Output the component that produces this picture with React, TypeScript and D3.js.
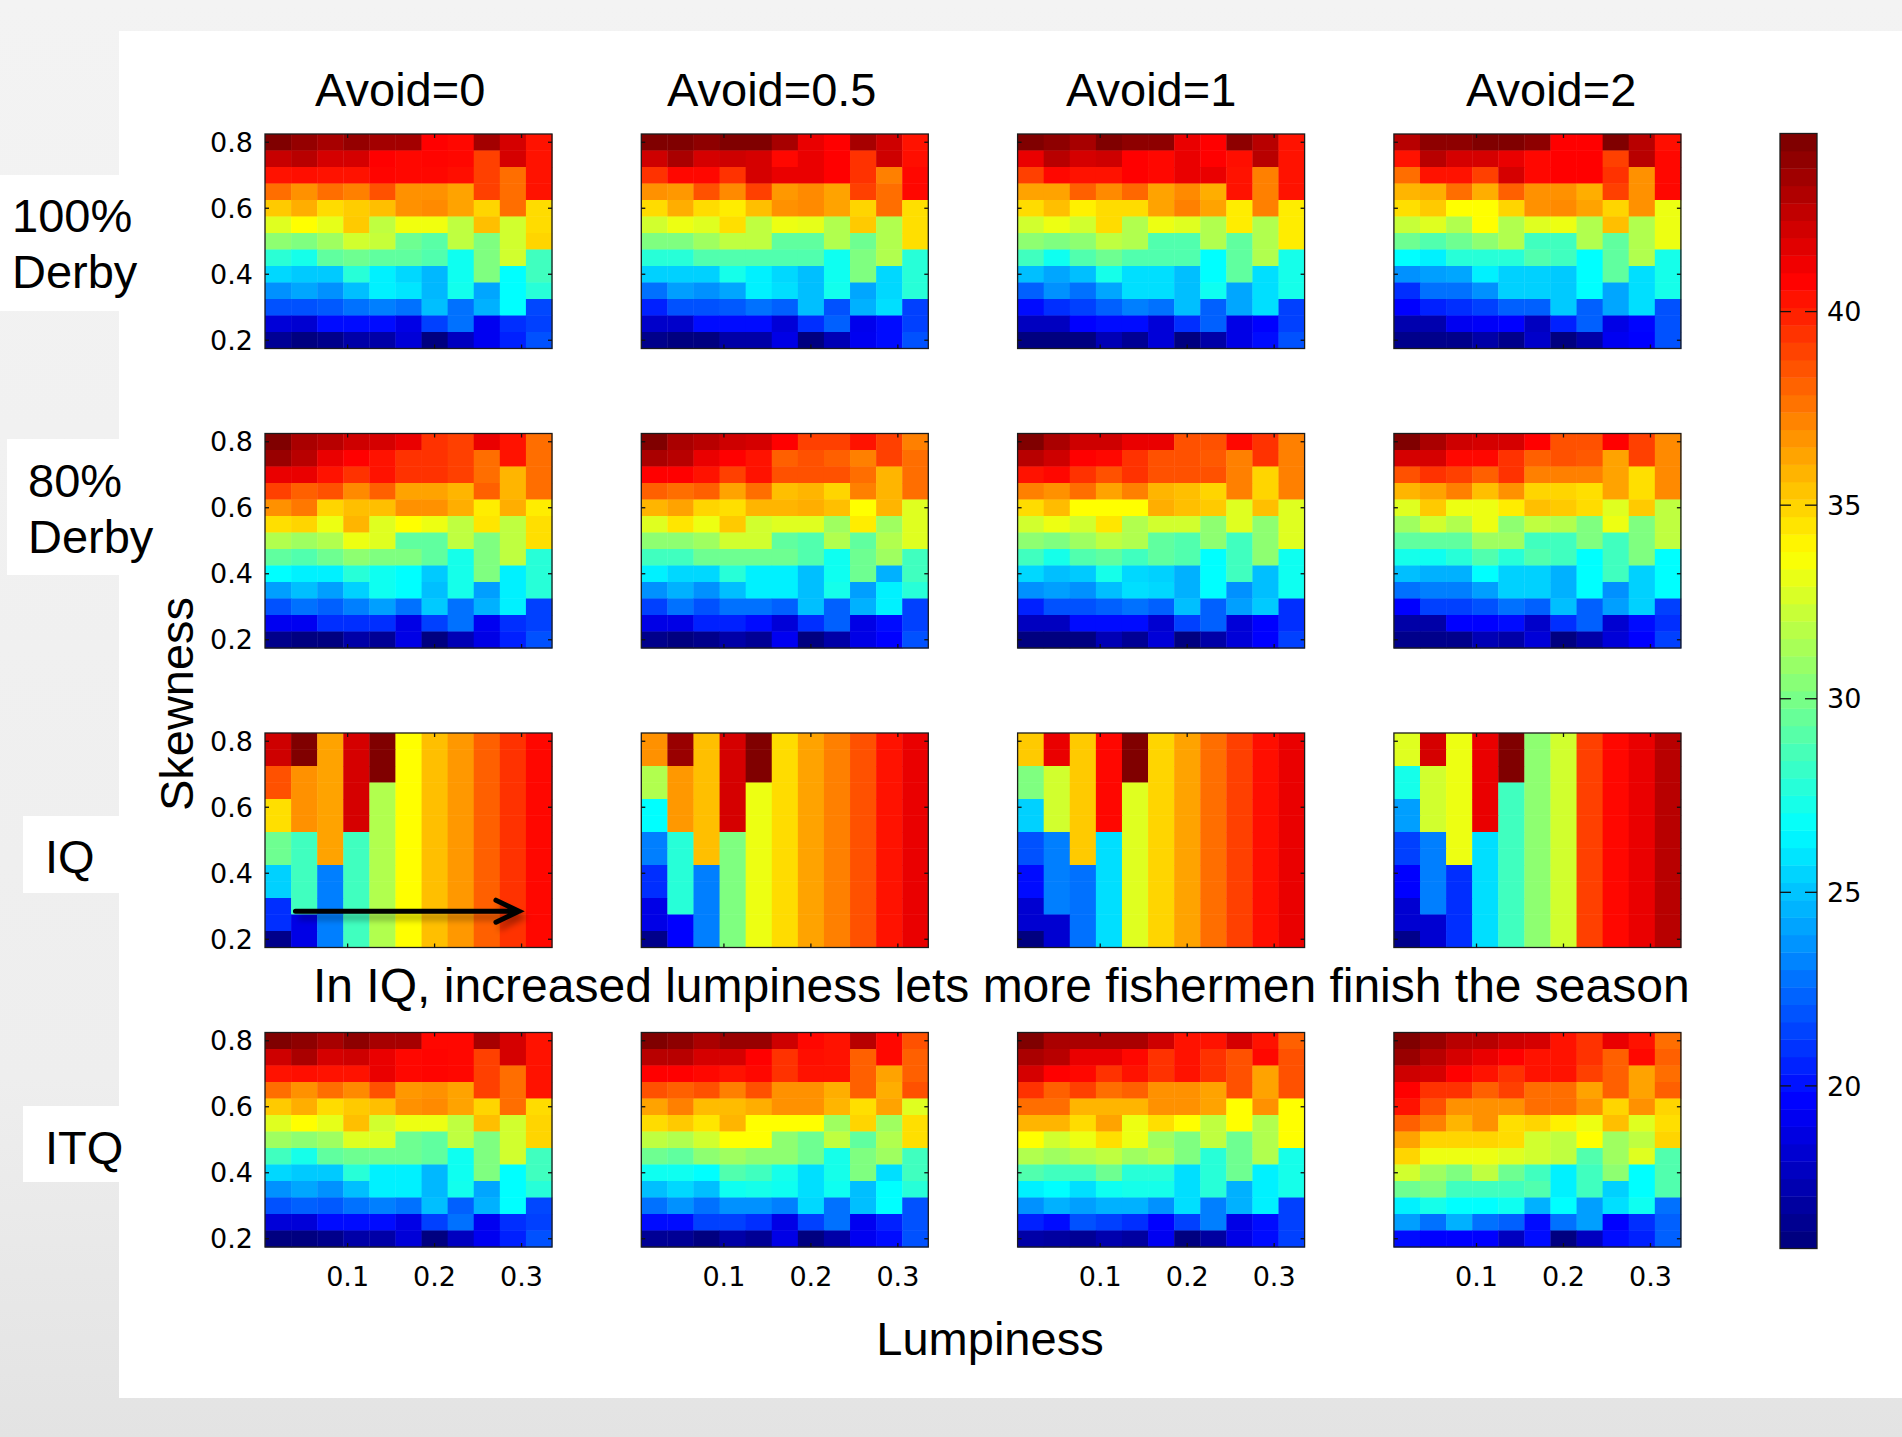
import { useEffect, useRef } from "react";
import * as d3 from "d3";

const W = 1902;
const H = 1437;

const lumpiness = [0.02, 0.05, 0.08, 0.11, 0.14, 0.17, 0.2, 0.23, 0.26, 0.29, 0.32];
const skewness = [0.8, 0.75, 0.7, 0.65, 0.6, 0.55, 0.5, 0.45, 0.4, 0.35, 0.3, 0.25, 0.2];
const avoidLabels = ["Avoid=0", "Avoid=0.5", "Avoid=1", "Avoid=2"];
const scenarioLabels = [["100%", "Derby"], ["80%", "Derby"], ["IQ"], ["ITQ"]];
const xTicks = [0.1, 0.2, 0.3];
const yTicks = [0.2, 0.4, 0.6, 0.8];
const colorTicks = [20, 25, 30, 35, 40];
const colorDomain: [number, number] = [15.8, 44.6];

// rows run from skewness 0.8 (top) down to 0.2, columns follow lumpiness
const derby100Avoid0 = [
  [44.6, 44, 43.5, 44, 43.6, 43.6, 41, 40.8, 43.6, 42.2, 40.5],
  [42.6, 43, 42.2, 42.2, 41, 40.8, 40.9, 40.8, 39.2, 42.2, 40.5],
  [40.5, 40.6, 40.5, 40.5, 40.9, 40.8, 40.8, 40.6, 39.2, 37.9, 40.5],
  [37.9, 36.9, 37.9, 37.4, 38.7, 36.9, 36.9, 36.4, 39.2, 37.9, 40.5],
  [35.3, 36.1, 34.8, 35.2, 35.6, 36.9, 37.1, 36.4, 35.0, 37.9, 34.8],
  [32.9, 33.8, 33.1, 35.3, 32.0, 33.4, 33.4, 32.0, 35.6, 32.5, 34.8],
  [30.6, 30.2, 31.1, 32.5, 32.2, 29.7, 29.1, 32.0, 30.2, 32.5, 35.0],
  [27.8, 27.2, 29.3, 29.7, 29.3, 29.3, 28.9, 27.0, 30.2, 32.5, 28.4],
  [25.5, 25.1, 25.1, 27.7, 26.2, 25.5, 24.6, 27.0, 30.2, 26.6, 28.4],
  [23.5, 24.1, 23.5, 24.8, 26.2, 25.9, 24.6, 27.1, 24.1, 26.6, 27.7],
  [21.7, 21.7, 21.9, 22.6, 23.0, 22.6, 24.8, 22.6, 24.4, 26.6, 21.4],
  [18.3, 18.1, 19.7, 19.7, 19.7, 18.7, 21.2, 22.6, 19.0, 20.7, 21.2],
  [16.4, 15.8, 16.1, 16.9, 16.9, 18.3, 15.8, 17.6, 19.0, 20.3, 21.7],
];

const derby100Avoid05 = [
  [44.6, 44.6, 44.2, 44.6, 44.6, 43.5, 41.6, 41, 43.5, 42.4, 40.5],
  [42.4, 43.4, 42.2, 42.4, 42.2, 40.8, 41.6, 41, 39.6, 42.4, 40.6],
  [39.6, 40.8, 40.8, 39.6, 42.2, 41.6, 41.6, 41, 39.6, 37.4, 40.8],
  [36.9, 36.7, 38.7, 37.1, 39.2, 36.7, 37.1, 36.4, 39.2, 37.9, 40.8],
  [34.8, 36.1, 34.8, 34.3, 35.6, 36.9, 37.1, 36.4, 35.0, 37.9, 34.7],
  [32.5, 33.3, 32.9, 34.7, 32.0, 33.3, 33.1, 31.6, 35.3, 31.6, 34.7],
  [30.2, 30.2, 31.1, 32.0, 32.0, 29.3, 29.3, 31.6, 29.7, 31.6, 34.7],
  [27.7, 27.7, 28.9, 28.9, 28.9, 28.9, 28.9, 27.0, 30.2, 31.6, 27.7],
  [25.3, 25.3, 25.3, 27.2, 26.2, 25.5, 24.8, 27.0, 30.2, 25.5, 27.7],
  [22.6, 23.9, 23.5, 24.1, 26.2, 25.7, 24.8, 27.1, 24.1, 25.5, 27.7],
  [20.3, 21.7, 21.7, 21.9, 22.6, 22.1, 24.8, 21.7, 24.4, 25.7, 21.2],
  [17.9, 17.9, 19.7, 19.7, 19.7, 18.3, 20.7, 22.1, 18.9, 19.7, 21.2],
  [16.1, 15.8, 15.8, 16.9, 16.9, 18.7, 15.8, 17.3, 19.0, 19.7, 21.7],
];

const derby100Avoid1 = [
  [44.6, 44.2, 43.5, 44.6, 44.2, 44.2, 41.6, 41, 44.2, 43, 40.5],
  [41.6, 43, 42.2, 42.4, 41, 40.8, 41.6, 41, 40.6, 43, 40.5],
  [39.2, 40.8, 40.5, 40.5, 41, 40.8, 41.6, 41.6, 40.5, 37.4, 40.5],
  [36.4, 36.4, 38.3, 37.1, 38.1, 36.4, 37.1, 36.1, 40.5, 37.4, 40.5],
  [34.8, 35.6, 34.2, 34.8, 34.8, 36.4, 37.4, 36.4, 34.3, 37.4, 34.3],
  [32.5, 33.3, 32.5, 34.8, 31.6, 33.3, 32.9, 31.6, 34.3, 31.6, 34.3],
  [30.6, 30.2, 30.6, 32.0, 31.6, 28.9, 28.9, 31.6, 29.3, 31.6, 34.3],
  [28.4, 27.0, 28.9, 29.7, 28.9, 28.9, 28.9, 26.6, 29.3, 31.6, 27.2],
  [24.8, 24.1, 24.8, 27.2, 25.7, 25.7, 24.8, 26.6, 29.3, 25.7, 27.2],
  [22.1, 23.5, 22.6, 24.1, 25.7, 25.7, 24.8, 27.0, 24.1, 25.7, 27.2],
  [19.7, 20.7, 21.2, 22.1, 23.0, 22.6, 24.8, 22.1, 24.1, 25.7, 21.2],
  [17.6, 17.6, 19.4, 19.7, 19.7, 18.3, 20.7, 22.1, 18.7, 19.4, 21.2],
  [15.8, 15.8, 15.8, 17.3, 16.4, 18.3, 15.8, 16.9, 18.7, 19.7, 21.7],
];

const derby100Avoid2 = [
  [43, 44.2, 44.2, 44.6, 44.6, 44.2, 41, 41, 44.6, 43, 40.6],
  [40.5, 43, 42.2, 42.2, 41.6, 40.8, 41, 41, 39.2, 43, 40.8],
  [37.9, 40.5, 40.5, 39.2, 42.2, 40.8, 41, 41, 39.6, 36.9, 40.8],
  [35.9, 36.1, 37.9, 36.1, 38.3, 36.9, 36.9, 36.1, 39.2, 36.9, 40.8],
  [34.7, 35.3, 33.8, 33.8, 35.0, 36.9, 37.1, 36.4, 35.0, 36.9, 33.3],
  [32.2, 32.9, 31.6, 33.8, 31.6, 32.9, 33.3, 31.6, 35.6, 31.6, 33.3],
  [29.7, 28.9, 29.7, 30.6, 31.6, 28.4, 28.4, 31.6, 29.3, 31.6, 33.3],
  [26.6, 26.2, 27.7, 27.7, 27.7, 28.9, 28.4, 26.6, 29.3, 31.6, 27.2],
  [23.5, 23.9, 24.1, 26.2, 25.3, 25.3, 25.1, 26.6, 29.3, 25.7, 27.2],
  [20.7, 22.6, 22.6, 23.5, 25.3, 25.3, 25.1, 26.6, 24.1, 25.7, 27.2],
  [19.4, 20.3, 20.7, 21.2, 22.1, 22.1, 25.1, 22.1, 24.1, 25.7, 21.7],
  [17.1, 17.1, 19.0, 19.2, 19.4, 17.6, 20.3, 22.1, 18.7, 19.5, 21.7],
  [16.1, 16.1, 16.1, 16.9, 16.1, 17.9, 15.8, 16.9, 19.0, 19.4, 21.7],
];

const derby80Avoid0 = [
  [44.6, 43.4, 43, 42.4, 42.2, 41.6, 39.6, 39.2, 41.6, 40.5, 37.9],
  [43.9, 43, 41.6, 41, 40.5, 39.6, 39.6, 39.2, 37.9, 40.5, 37.9],
  [41.6, 41.6, 40.5, 39.6, 40.5, 39.6, 39.6, 39.2, 37.9, 35.9, 37.9],
  [39.2, 38.3, 38.7, 37.1, 38.3, 36.4, 36.4, 35.9, 38.3, 35.9, 37.9],
  [36.9, 37.6, 35.0, 35.6, 35.6, 36.9, 36.9, 36.1, 34.3, 36.1, 34.3],
  [34.7, 35.0, 33.3, 35.9, 32.9, 33.8, 33.3, 32.0, 34.5, 32.0, 34.7],
  [31.6, 31.1, 31.6, 33.3, 32.9, 29.3, 29.3, 32.0, 30.2, 32.0, 34.7],
  [29.3, 28.9, 29.7, 30.6, 30.2, 30.2, 29.3, 27.2, 30.2, 32.0, 27.7],
  [26.6, 26.2, 26.2, 27.7, 27.0, 26.6, 25.1, 27.2, 30.2, 26.2, 27.7],
  [23.9, 24.8, 23.9, 25.3, 27.0, 26.6, 24.8, 27.2, 23.9, 26.2, 27.7],
  [21.7, 22.6, 22.1, 23.0, 23.9, 22.6, 25.1, 22.6, 24.4, 26.2, 21.2],
  [19.0, 19.0, 20.7, 20.7, 20.7, 18.7, 21.2, 22.6, 19.0, 20.7, 21.2],
  [16.1, 15.8, 15.8, 16.9, 16.4, 18.7, 15.8, 17.3, 18.7, 20.3, 21.7],
];

const derby80Avoid05 = [
  [44.6, 43.4, 43, 42.4, 42.2, 41, 39.2, 39.2, 40.5, 39.2, 37.4],
  [43.4, 43, 41.6, 41, 40.5, 38.3, 38.7, 38.3, 37.4, 39.2, 37.9],
  [41, 41, 40.5, 39.2, 40.5, 38.7, 38.7, 38.7, 37.9, 35.9, 37.9],
  [38.3, 37.9, 38.3, 36.4, 37.9, 35.6, 35.9, 35.0, 37.4, 35.9, 37.9],
  [35.9, 36.4, 35.0, 34.7, 35.9, 35.9, 36.1, 35.6, 33.8, 35.9, 32.9],
  [32.9, 34.5, 33.3, 35.3, 32.5, 32.9, 32.9, 31.1, 34.3, 31.1, 32.9],
  [30.6, 30.6, 31.1, 32.5, 32.5, 29.3, 28.9, 31.6, 29.3, 31.6, 32.9],
  [28.4, 28.4, 29.7, 29.7, 29.7, 29.7, 28.9, 27.0, 29.7, 31.1, 28.4],
  [26.2, 25.5, 25.5, 27.7, 26.2, 26.2, 24.8, 27.0, 29.7, 24.4, 28.4],
  [23.5, 24.4, 23.5, 24.8, 26.2, 26.2, 24.8, 27.2, 23.9, 26.2, 27.7],
  [21.2, 22.6, 21.7, 22.6, 22.6, 22.1, 24.8, 22.1, 24.4, 26.2, 21.2],
  [18.7, 18.7, 20.3, 20.3, 19.7, 18.3, 20.7, 22.1, 18.7, 19.7, 21.2],
  [16.1, 15.8, 16.1, 16.9, 16.4, 19.0, 15.8, 16.9, 18.7, 19.4, 21.7],
];

const derby80Avoid1 = [
  [44.6, 43.4, 42.4, 42.4, 41.6, 41.6, 38.7, 38.7, 40.8, 39.6, 37.4],
  [43, 42.4, 41, 40.8, 39.6, 38.7, 38.7, 38.5, 37.4, 39.6, 37.4],
  [40.5, 40.8, 39.6, 38.7, 39.6, 38.7, 38.7, 38.7, 37.4, 35.0, 37.4],
  [37.4, 36.9, 37.9, 36.4, 37.4, 35.9, 35.6, 35.0, 37.4, 35.0, 37.4],
  [34.8, 35.7, 33.8, 33.8, 33.8, 36.1, 35.6, 35.3, 32.9, 35.6, 32.9],
  [32.5, 33.3, 32.5, 34.5, 31.6, 32.5, 32.5, 30.6, 32.9, 30.6, 32.9],
  [30.6, 30.2, 31.1, 32.0, 31.6, 29.3, 28.9, 30.6, 28.4, 30.6, 32.9],
  [28.4, 27.2, 28.9, 29.3, 28.4, 29.3, 28.9, 26.6, 28.4, 30.6, 27.0],
  [25.5, 24.8, 25.1, 27.2, 25.5, 25.3, 24.4, 26.6, 28.4, 24.8, 27.0],
  [23.5, 23.9, 23.5, 24.8, 25.7, 25.5, 24.4, 26.6, 23.5, 24.8, 27.0],
  [20.3, 21.7, 21.7, 22.1, 22.6, 22.1, 24.8, 22.1, 23.9, 25.1, 20.7],
  [17.6, 17.6, 19.7, 19.7, 19.7, 18.1, 21.2, 22.1, 18.3, 19.4, 20.7],
  [15.8, 15.8, 15.8, 17.3, 16.4, 18.3, 15.8, 16.9, 18.3, 19.4, 21.2],
];

const derby80Avoid2 = [
  [44.6, 43.4, 42.4, 42.2, 42.2, 41, 38.7, 38.7, 41, 39.2, 37.1],
  [42.2, 42.2, 40.8, 40.8, 39.6, 38.3, 38.7, 38.5, 36.4, 39.2, 37.1],
  [38.7, 39.6, 39.2, 38.3, 39.6, 37.4, 37.4, 37.4, 36.4, 34.7, 37.1],
  [35.9, 36.4, 37.4, 35.6, 36.9, 35.0, 35.0, 34.7, 36.4, 34.7, 37.1],
  [32.9, 35.3, 33.3, 33.3, 34.3, 35.6, 35.3, 34.8, 32.9, 35.3, 32.0],
  [31.1, 32.5, 31.6, 33.3, 30.6, 32.0, 31.6, 30.2, 33.3, 30.2, 32.0],
  [29.3, 29.3, 29.3, 31.1, 31.1, 28.4, 28.4, 30.2, 28.4, 30.2, 32.0],
  [27.2, 27.0, 27.7, 28.9, 27.7, 28.9, 28.4, 26.6, 28.4, 30.2, 26.6],
  [24.8, 24.4, 24.4, 26.6, 25.3, 25.3, 24.4, 26.6, 28.4, 25.3, 26.6],
  [22.6, 23.0, 23.0, 23.9, 25.3, 25.3, 24.4, 26.6, 23.5, 25.3, 26.6],
  [19.4, 21.2, 21.2, 21.7, 22.6, 22.1, 24.8, 22.1, 23.9, 25.3, 21.2],
  [16.9, 16.9, 19.4, 19.4, 19.7, 17.9, 20.7, 22.1, 18.1, 19.7, 20.7],
  [16.1, 16.1, 16.1, 17.3, 16.9, 18.3, 15.8, 16.9, 18.3, 19.4, 21.2],
];

const iqAvoid0 = [
  [42.4, 44.6, 36.4, 42.2, 44.6, 33.8, 35.6, 36.7, 38.3, 39.6, 40.8],
  [42.4, 44.6, 36.4, 42.2, 44.6, 33.8, 35.6, 36.7, 38.3, 39.6, 40.8],
  [38.7, 36.9, 36.4, 42.2, 44.6, 33.8, 35.6, 36.7, 38.3, 39.6, 40.8],
  [38.7, 36.9, 36.4, 42.2, 31.6, 33.8, 35.6, 36.7, 38.3, 39.6, 40.8],
  [34.7, 36.9, 36.4, 42.2, 31.6, 33.8, 35.6, 36.7, 38.3, 39.6, 40.8],
  [34.7, 36.9, 36.4, 42.2, 31.6, 33.8, 35.6, 36.7, 38.3, 39.6, 40.8],
  [29.7, 28.4, 36.4, 28.4, 31.6, 33.8, 35.6, 36.7, 38.3, 39.6, 40.8],
  [29.7, 28.4, 36.4, 28.4, 31.6, 33.8, 35.6, 36.7, 38.3, 39.6, 40.8],
  [25.3, 28.4, 23.0, 28.4, 31.6, 33.8, 35.6, 36.7, 38.3, 39.6, 40.8],
  [25.3, 28.4, 23.0, 28.4, 31.6, 33.8, 35.6, 36.7, 38.3, 39.6, 40.8],
  [20.7, 28.4, 23.0, 28.4, 31.6, 33.8, 35.6, 36.7, 38.3, 39.6, 40.8],
  [20.7, 18.7, 23.0, 28.4, 31.6, 33.8, 35.6, 36.7, 38.3, 39.6, 40.8],
  [16.1, 18.7, 23.0, 28.4, 31.6, 33.8, 35.6, 36.7, 38.3, 39.6, 40.8],
];

const iqAvoid05 = [
  [36.9, 43.9, 35.6, 42.2, 44.6, 34.8, 36.4, 37.4, 38.7, 40.5, 41.6],
  [36.9, 43.9, 35.6, 42.2, 44.6, 34.8, 36.4, 37.4, 38.7, 40.5, 41.6],
  [31.6, 36.7, 35.6, 42.2, 44.6, 34.8, 36.4, 37.4, 38.7, 40.5, 41.6],
  [31.6, 36.7, 35.6, 42.2, 33.3, 34.8, 36.4, 37.4, 38.7, 40.5, 41.6],
  [26.6, 36.7, 35.6, 42.2, 33.3, 34.8, 36.4, 37.4, 38.7, 40.5, 41.6],
  [26.6, 36.7, 35.6, 42.2, 33.3, 34.8, 36.4, 37.4, 38.7, 40.5, 41.6],
  [23.0, 27.7, 35.6, 30.2, 33.3, 34.8, 36.4, 37.4, 38.7, 40.5, 41.6],
  [23.0, 27.7, 35.6, 30.2, 33.3, 34.8, 36.4, 37.4, 38.7, 40.5, 41.6],
  [20.7, 27.7, 23.0, 30.2, 33.3, 34.8, 36.4, 37.4, 38.7, 40.5, 41.6],
  [20.7, 27.7, 23.0, 30.2, 33.3, 34.8, 36.4, 37.4, 38.7, 40.5, 41.6],
  [18.7, 27.7, 23.0, 30.2, 33.3, 34.8, 36.4, 37.4, 38.7, 40.5, 41.6],
  [18.7, 19.4, 23.0, 30.2, 33.3, 34.8, 36.4, 37.4, 38.7, 40.5, 41.6],
  [16.1, 19.4, 23.0, 30.2, 33.3, 34.8, 36.4, 37.4, 38.7, 40.5, 41.6],
];

const iqAvoid1 = [
  [35.3, 41.6, 35.3, 40.8, 44.6, 35.0, 36.4, 37.9, 39.2, 40.6, 41.6],
  [35.3, 41.6, 35.3, 40.8, 44.6, 35.0, 36.4, 37.9, 39.2, 40.6, 41.6],
  [30.2, 32.5, 35.3, 40.8, 44.6, 35.0, 36.4, 37.9, 39.2, 40.6, 41.6],
  [30.2, 32.5, 35.3, 40.8, 32.9, 35.0, 36.4, 37.9, 39.2, 40.6, 41.6],
  [25.3, 32.5, 35.3, 40.8, 32.9, 35.0, 36.4, 37.9, 39.2, 40.6, 41.6],
  [25.3, 32.5, 35.3, 40.8, 32.9, 35.0, 36.4, 37.9, 39.2, 40.6, 41.6],
  [21.7, 23.0, 35.3, 25.7, 32.9, 35.0, 36.4, 37.9, 39.2, 40.6, 41.6],
  [21.7, 23.0, 35.3, 25.7, 32.9, 35.0, 36.4, 37.9, 39.2, 40.6, 41.6],
  [19.7, 23.0, 22.6, 25.7, 32.9, 35.0, 36.4, 37.9, 39.2, 40.6, 41.6],
  [19.7, 23.0, 22.6, 25.7, 32.9, 35.0, 36.4, 37.9, 39.2, 40.6, 41.6],
  [18.1, 23.0, 22.6, 25.7, 32.9, 35.0, 36.4, 37.9, 39.2, 40.6, 41.6],
  [18.1, 18.1, 22.6, 25.7, 32.9, 35.0, 36.4, 37.9, 39.2, 40.6, 41.6],
  [15.8, 18.1, 22.6, 25.7, 32.9, 35.0, 36.4, 37.9, 39.2, 40.6, 41.6],
];

const iqAvoid2 = [
  [32.9, 42.2, 33.3, 41.6, 44.6, 30.6, 32.5, 39.2, 40.8, 41.6, 43.0],
  [32.9, 42.2, 33.3, 41.6, 44.6, 30.6, 32.5, 39.2, 40.8, 41.6, 43.0],
  [27.2, 32.5, 33.3, 41.6, 44.6, 30.6, 32.5, 39.2, 40.8, 41.6, 43.0],
  [27.2, 32.5, 33.3, 41.6, 28.4, 30.6, 32.5, 39.2, 40.8, 41.6, 43.0],
  [23.9, 32.5, 33.3, 41.6, 28.4, 30.6, 32.5, 39.2, 40.8, 41.6, 43.0],
  [23.9, 32.5, 33.3, 41.6, 28.4, 30.6, 32.5, 39.2, 40.8, 41.6, 43.0],
  [21.2, 23.0, 33.3, 25.7, 28.4, 30.6, 32.5, 39.2, 40.8, 41.6, 43.0],
  [21.2, 23.0, 33.3, 25.7, 28.4, 30.6, 32.5, 39.2, 40.8, 41.6, 43.0],
  [19.4, 23.0, 20.7, 25.7, 28.4, 30.6, 32.5, 39.2, 40.8, 41.6, 43.0],
  [19.4, 23.0, 20.7, 25.7, 28.4, 30.6, 32.5, 39.2, 40.8, 41.6, 43.0],
  [18.1, 23.0, 20.7, 25.7, 28.4, 30.6, 32.5, 39.2, 40.8, 41.6, 43.0],
  [18.1, 18.1, 20.7, 25.7, 28.4, 30.6, 32.5, 39.2, 40.8, 41.6, 43.0],
  [16.1, 18.1, 20.7, 25.7, 28.4, 30.6, 32.5, 39.2, 40.8, 41.6, 43.0],
];

const itqAvoid0 = [
  [44.6, 44.2, 43.5, 44.2, 43.5, 43.5, 40.8, 40.8, 43.5, 42.2, 40.5],
  [42.4, 43.4, 42.2, 42.4, 41.6, 40.8, 40.9, 40.8, 39.2, 42.2, 40.5],
  [40.5, 40.6, 40.5, 40.5, 41.6, 40.8, 40.9, 40.8, 39.2, 37.9, 40.5],
  [37.9, 36.9, 37.9, 37.1, 38.7, 36.7, 36.9, 36.4, 39.2, 37.9, 40.5],
  [35.3, 36.1, 34.8, 35.3, 35.6, 36.9, 37.1, 36.4, 35.0, 37.9, 34.8],
  [32.9, 33.8, 33.1, 35.6, 32.5, 33.3, 33.3, 32.0, 35.6, 32.5, 35.0],
  [31.1, 30.6, 31.1, 32.9, 32.9, 29.7, 29.3, 32.0, 30.2, 32.5, 35.0],
  [28.4, 27.2, 29.3, 29.7, 29.7, 29.7, 29.3, 27.0, 30.2, 32.5, 28.4],
  [25.5, 25.1, 25.1, 27.7, 26.2, 26.2, 24.6, 27.0, 30.2, 26.6, 28.4],
  [23.5, 24.1, 23.5, 24.8, 26.2, 26.2, 24.6, 27.1, 24.1, 26.6, 27.7],
  [21.7, 22.1, 21.9, 22.6, 23.0, 22.6, 24.8, 22.1, 24.4, 26.6, 21.4],
  [18.3, 18.3, 19.7, 19.7, 19.7, 18.7, 21.2, 22.6, 19.0, 20.7, 21.2],
  [15.8, 15.8, 16.1, 16.9, 16.9, 18.3, 15.8, 17.6, 19.0, 20.3, 21.7],
];

const itqAvoid05 = [
  [44.6, 44.2, 43.4, 43.9, 43.9, 42.4, 40.8, 40.5, 43, 40.8, 38.7],
  [43, 43, 42.2, 42.2, 41, 39.6, 40.6, 40.5, 38.3, 40.8, 38.3],
  [41, 41, 40.8, 40.5, 40.8, 39.6, 40.5, 40.5, 38.3, 36.4, 38.3],
  [38.7, 38.3, 38.7, 37.4, 38.7, 36.9, 36.9, 36.1, 38.3, 36.1, 38.7],
  [36.4, 37.4, 35.7, 35.7, 36.1, 36.9, 36.9, 35.9, 34.7, 36.4, 32.9],
  [34.8, 35.3, 34.5, 35.9, 33.8, 33.8, 33.8, 31.1, 35.0, 31.1, 34.7],
  [32.0, 31.6, 32.5, 33.8, 33.8, 30.6, 29.7, 32.0, 29.3, 31.6, 34.7],
  [29.7, 29.3, 30.6, 31.1, 30.6, 30.6, 29.7, 27.2, 30.2, 31.1, 28.4],
  [27.0, 27.0, 26.6, 28.9, 28.4, 27.2, 25.7, 27.2, 30.2, 25.7, 28.4],
  [24.8, 25.5, 24.8, 27.0, 27.2, 27.0, 25.7, 27.0, 24.8, 26.6, 27.7],
  [22.6, 23.5, 22.6, 23.5, 23.5, 23.0, 25.5, 22.6, 24.8, 26.6, 21.7],
  [19.7, 19.7, 21.2, 21.2, 20.7, 18.7, 21.2, 22.6, 19.0, 20.3, 21.7],
  [16.4, 16.4, 15.8, 16.9, 16.4, 18.7, 15.8, 16.9, 19.0, 19.7, 21.7],
];

const itqAvoid1 = [
  [44.6, 43.4, 43.4, 43.4, 43.4, 42.4, 40.5, 40.5, 42.2, 40.5, 38.3],
  [43.4, 43, 41.6, 41.6, 40.8, 39.6, 40.5, 39.6, 38.7, 40.8, 38.7],
  [42.2, 41, 40.8, 39.6, 40.5, 39.6, 40.5, 39.6, 38.7, 36.4, 38.7],
  [39.6, 38.3, 39.2, 37.9, 38.3, 36.9, 36.9, 36.4, 38.7, 36.4, 38.7],
  [37.9, 37.9, 35.9, 35.9, 35.9, 36.9, 36.9, 36.4, 33.8, 36.9, 33.8],
  [35.9, 35.9, 34.8, 36.4, 33.3, 34.7, 33.8, 32.0, 33.8, 31.6, 33.8],
  [33.8, 32.5, 33.3, 34.7, 33.3, 31.1, 30.2, 32.0, 29.7, 31.6, 33.8],
  [31.6, 31.1, 31.6, 32.0, 31.1, 31.6, 30.2, 27.7, 29.7, 31.6, 27.2],
  [28.9, 28.4, 28.4, 29.7, 27.7, 27.7, 25.7, 27.7, 29.7, 26.2, 27.2],
  [26.2, 26.6, 25.7, 27.0, 27.2, 27.2, 25.7, 27.7, 24.4, 26.2, 27.2],
  [23.5, 24.4, 23.9, 24.4, 24.4, 23.5, 25.7, 23.0, 24.4, 26.2, 21.2],
  [20.3, 19.7, 21.7, 21.2, 20.7, 19.4, 21.2, 23.0, 18.7, 19.7, 21.2],
  [16.9, 16.7, 16.4, 17.1, 16.7, 19.0, 15.8, 16.7, 18.7, 19.7, 21.2],
];

const itqAvoid2 = [
  [44.6, 43.9, 43, 43, 42.4, 42.2, 40.5, 39.6, 41.6, 40.5, 37.9],
  [43.9, 43, 42.2, 41.6, 41, 40.5, 40.5, 39.6, 38.3, 40.8, 38.3],
  [42.4, 42.2, 41, 40.5, 39.6, 40.5, 40.5, 39.2, 38.3, 36.4, 37.9],
  [41, 39.6, 39.6, 38.3, 39.2, 37.9, 37.9, 36.4, 38.3, 36.4, 38.3],
  [40.5, 38.7, 36.9, 36.9, 36.9, 37.9, 37.9, 36.9, 35.0, 36.9, 35.0],
  [38.3, 37.4, 35.9, 36.9, 34.7, 35.0, 34.2, 33.3, 35.6, 32.9, 34.7],
  [36.4, 35.0, 35.0, 35.0, 34.8, 32.5, 32.0, 33.8, 31.1, 32.0, 35.0],
  [35.0, 33.3, 33.3, 33.3, 32.9, 32.5, 32.0, 28.9, 31.1, 32.9, 28.9],
  [32.5, 31.1, 30.2, 32.0, 29.7, 28.4, 26.2, 28.4, 30.6, 26.6, 28.9],
  [29.7, 30.2, 28.4, 28.4, 28.4, 28.9, 26.2, 28.4, 25.3, 26.6, 28.9],
  [26.2, 27.2, 26.6, 26.6, 27.0, 24.4, 26.6, 23.9, 25.7, 27.0, 22.6],
  [23.9, 22.6, 24.4, 22.6, 22.1, 19.7, 22.6, 23.9, 19.4, 20.7, 22.1],
  [19.7, 19.4, 19.4, 19.4, 17.6, 19.7, 15.8, 17.6, 19.7, 20.3, 22.1],
];

const panelData = [
  [derby100Avoid0, derby100Avoid05, derby100Avoid1, derby100Avoid2],
  [derby80Avoid0, derby80Avoid05, derby80Avoid1, derby80Avoid2],
  [iqAvoid0, iqAvoid05, iqAvoid1, iqAvoid2],
  [itqAvoid0, itqAvoid05, itqAvoid1, itqAvoid2],
];

// arrow in the IQ / Avoid=0 panel, in data units (lumpiness, skewness)
const arrowFrom = [0.04, 0.285];
const arrowTo = [0.297, 0.285];

const BIG = "'Liberation Sans', Arial, Helvetica, sans-serif";
const TICK = "'DejaVu Sans', Verdana, sans-serif";

// MATLAB-style jet colormap
const jet = d3
  .scaleLinear<string>()
  .domain([0, 0.125, 0.375, 0.625, 0.875, 1])
  .range(["#000080", "#0000ff", "#00ffff", "#ffff00", "#ff0000", "#800000"])
  .clamp(true);
const norm = d3.scaleLinear().domain(colorDomain).range([0, 1]).clamp(true);

export default function App() {
  const svgRef = useRef<SVGSVGElement>(null);

  useEffect(() => {
    if (!svgRef.current) return;
    const svg = d3.select(svgRef.current);
    svg.selectAll("*").remove();

    const panelLeft = 265;
    const panelTop = 134;
    const stepX = 376.3;
    const stepY = 299.5;
    const pw = 287;
    const ph = 214.5;

    // backdrop
    const defs = svg.append("defs");
    const bg = defs
      .append("linearGradient")
      .attr("id", "bg")
      .attr("x1", 0)
      .attr("y1", 0)
      .attr("x2", 0)
      .attr("y2", 1);
    bg.append("stop").attr("offset", "0%").attr("stop-color", "#f3f3f3");
    bg.append("stop").attr("offset", "75%").attr("stop-color", "#eeeeee");
    bg.append("stop").attr("offset", "100%").attr("stop-color", "#e3e3e3");
    const blur = defs.append("filter").attr("id", "shadow").attr("x", "-10%").attr("y", "-100%").attr("width", "120%").attr("height", "300%");
    blur.append("feGaussianBlur").attr("stdDeviation", 3);

    svg.append("rect").attr("width", W).attr("height", H).attr("fill", "url(#bg)");
    svg.append("rect").attr("x", 119).attr("y", 31).attr("width", W - 119).attr("height", 1367).attr("fill", "#fff");

    // white boxes behind the row labels
    const labelBoxes = [
      [0, 175, 119, 136],
      [7, 439, 112, 136],
      [23, 816, 96, 77],
      [23, 1106, 96, 76],
    ];
    svg
      .append("g")
      .selectAll("rect")
      .data(labelBoxes)
      .join("rect")
      .attr("x", (d) => d[0])
      .attr("y", (d) => d[1])
      .attr("width", (d) => d[2])
      .attr("height", (d) => d[3])
      .attr("fill", "#fff");

    // row labels
    const labelPos = [
      { x: 12, y: [232, 288] },
      { x: 28, y: [497, 553] },
      { x: 45, y: [873] },
      { x: 45, y: [1164] },
    ];
    scenarioLabels.forEach((lines, i) => {
      lines.forEach((txt, j) => {
        svg
          .append("text")
          .attr("x", labelPos[i].x)
          .attr("y", labelPos[i].y[j])
          .attr("font-family", BIG)
          .attr("font-size", 47)
          .attr("fill", "#000")
          .text(txt);
      });
    });

    // column titles
    const titleX = [315, 667, 1066, 1466];
    avoidLabels.forEach((t, i) => {
      svg
        .append("text")
        .attr("x", titleX[i])
        .attr("y", 106)
        .attr("font-family", BIG)
        .attr("font-size", 47)
        .text(t);
    });

    const half = { l: 0.015, s: 0.025 };

    panelData.forEach((row, r) => {
      row.forEach((grid, c) => {
        const x0 = panelLeft + c * stepX;
        const y0 = panelTop + r * stepY;
        const x = d3.scaleLinear().domain([0.005, 0.335]).range([x0, x0 + pw]);
        const y = d3.scaleLinear().domain([0.175, 0.825]).range([y0 + ph, y0]);

        const cells = grid.flatMap((vals, i) =>
          vals.map((v, j) => ({ s: skewness[i], l: lumpiness[j], v }))
        );

        const g = svg.append("g");
        g.selectAll("rect")
          .data(cells)
          .join("rect")
          .attr("x", (d) => x(d.l - half.l))
          .attr("y", (d) => y(d.s + half.s))
          .attr("width", (d) => x(d.l + half.l) - x(d.l - half.l) + 0.4)
          .attr("height", (d) => y(d.s - half.s) - y(d.s + half.s) + 0.4)
          .attr("fill", (d) => jet(norm(d.v)));

        g.append("rect")
          .attr("x", x0)
          .attr("y", y0)
          .attr("width", pw)
          .attr("height", ph)
          .attr("fill", "none")
          .attr("stroke", "#1b1b1b")
          .attr("stroke-width", 1.3);

        // inward ticks on all four sides
        xTicks.forEach((t) => {
          g.append("line").attr("x1", x(t)).attr("x2", x(t)).attr("y1", y0 + ph).attr("y2", y0 + ph - 4).attr("stroke", "#111").attr("stroke-width", 1.3);
          g.append("line").attr("x1", x(t)).attr("x2", x(t)).attr("y1", y0).attr("y2", y0 + 4).attr("stroke", "#111").attr("stroke-width", 1.3);
        });
        yTicks.forEach((t) => {
          g.append("line").attr("x1", x0).attr("x2", x0 + 4).attr("y1", y(t)).attr("y2", y(t)).attr("stroke", "#111").attr("stroke-width", 1.3);
          g.append("line").attr("x1", x0 + pw).attr("x2", x0 + pw - 4).attr("y1", y(t)).attr("y2", y(t)).attr("stroke", "#111").attr("stroke-width", 1.3);
        });

        if (r === panelData.length - 1) {
          g.selectAll(".xl")
            .data(xTicks)
            .join("text")
            .attr("x", (d) => x(d))
            .attr("y", y0 + ph + 39)
            .attr("text-anchor", "middle")
            .attr("font-family", TICK)
            .attr("font-size", 27)
            .text((d) => d3.format(".1f")(d));
        }
        if (c === 0) {
          g.selectAll(".yl")
            .data(yTicks)
            .join("text")
            .attr("x", x0 - 12)
            .attr("y", (d) => y(d))
            .attr("dy", "0.36em")
            .attr("text-anchor", "end")
            .attr("font-family", TICK)
            .attr("font-size", 27)
            .text((d) => d3.format(".1f")(d));
        }

        // annotation arrow in IQ, Avoid=0
        if (r === 2 && c === 0) {
          const ax1 = x(arrowFrom[0]);
          const ax2 = x(arrowTo[0]);
          const ay = y(arrowFrom[1]);
          const arrowPath = `M${ax1},${ay}H${ax2}M${ax2 - 23},${ay - 11}L${ax2},${ay}L${ax2 - 23},${ay + 11}`;
          g.append("path")
            .attr("d", arrowPath)
            .attr("transform", "translate(3,6)")
            .attr("fill", "none")
            .attr("stroke", "rgba(0,0,0,0.35)")
            .attr("stroke-width", 5)
            .attr("filter", "url(#shadow)");
          g.append("path")
            .attr("d", arrowPath)
            .attr("fill", "none")
            .attr("stroke", "#000")
            .attr("stroke-width", 5)
            .attr("stroke-linecap", "round")
            .attr("stroke-linejoin", "miter");
        }
      });
    });

    // axis titles and annotation
    svg
      .append("text")
      .attr("transform", "translate(193,704) rotate(-90)")
      .attr("text-anchor", "middle")
      .attr("font-family", BIG)
      .attr("font-size", 47)
      .text("Skewness");
    svg
      .append("text")
      .attr("x", 990)
      .attr("y", 1355)
      .attr("text-anchor", "middle")
      .attr("font-family", BIG)
      .attr("font-size", 47)
      .text("Lumpiness");
    svg
      .append("text")
      .attr("x", 313)
      .attr("y", 1002)
      .attr("font-family", BIG)
      .attr("font-size", 48)
      .text("In IQ, increased lumpiness lets more fishermen finish the season");

    // colorbar
    const cbX = 1780;
    const cbW = 37;
    const cScale = d3.scaleLinear().domain(colorDomain).range([1248.5, 133.5]);
    const nBands = 64;
    const step = (colorDomain[1] - colorDomain[0]) / nBands;
    const bands = d3.range(nBands).map((i) => colorDomain[0] + i * step);
    const cb = svg.append("g");
    cb.selectAll("rect")
      .data(bands)
      .join("rect")
      .attr("x", cbX)
      .attr("y", (d) => cScale(d + step))
      .attr("width", cbW)
      .attr("height", (d) => cScale(d) - cScale(d + step) + 0.4)
      .attr("fill", (_d, i) => jet(i / (nBands - 1)));
    cb.append("rect")
      .attr("x", cbX)
      .attr("y", cScale(colorDomain[1]))
      .attr("width", cbW)
      .attr("height", cScale(colorDomain[0]) - cScale(colorDomain[1]))
      .attr("fill", "none")
      .attr("stroke", "#1b1b1b")
      .attr("stroke-width", 1.3);
    colorTicks.forEach((t) => {
      cb.append("line").attr("x1", cbX).attr("x2", cbX + 11).attr("y1", cScale(t)).attr("y2", cScale(t)).attr("stroke", "#111").attr("stroke-width", 1.3);
      cb.append("line").attr("x1", cbX + cbW - 12).attr("x2", cbX + cbW).attr("y1", cScale(t)).attr("y2", cScale(t)).attr("stroke", "#111").attr("stroke-width", 1.3);
      cb.append("text")
        .attr("x", cbX + cbW + 10)
        .attr("y", cScale(t))
        .attr("dy", "0.36em")
        .attr("font-family", TICK)
        .attr("font-size", 27)
        .text(String(t));
    });
  }, []);

  return (
    <div style={{ position: "absolute", left: 0, top: 0, width: W, height: H, overflow: "hidden" }}>
      <svg ref={svgRef} width={W} height={H} style={{ display: "block" }} />
    </div>
  );
}
